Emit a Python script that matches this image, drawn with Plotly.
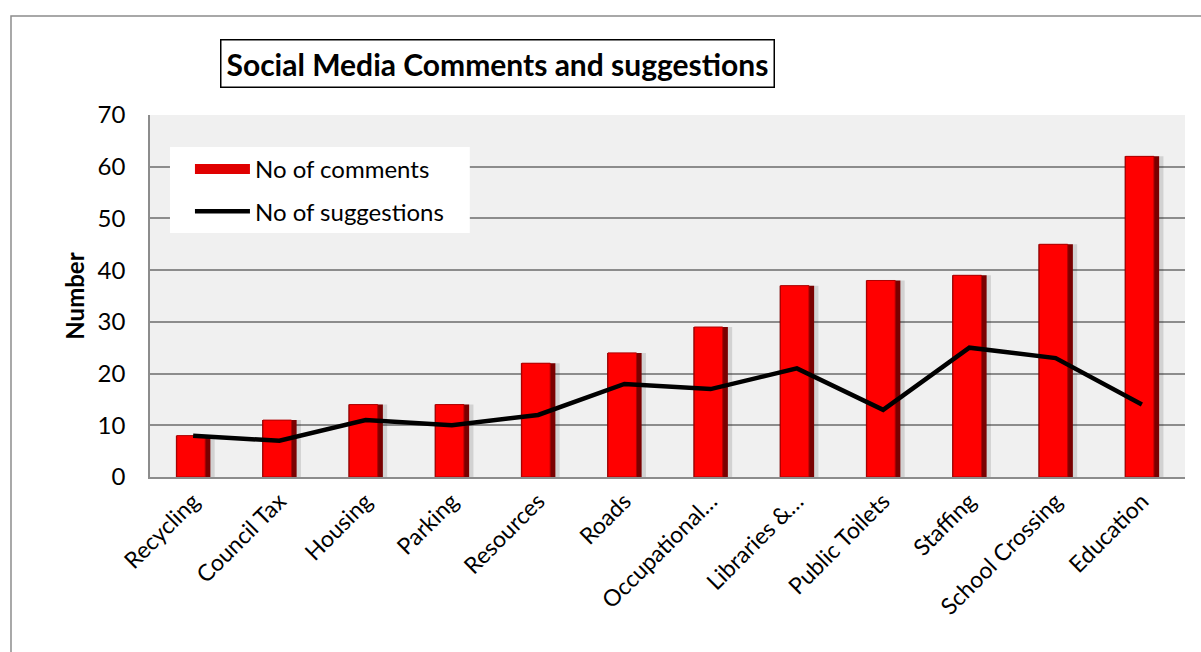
import plotly.graph_objects as go

categories = ["Recycling", "Council Tax", "Housing", "Parking", "Resources", "Roads",
              "Occupational…", "Libraries &…", "Public Toilets", "Staffing",
              "School Crossing", "Education"]
comments = [8, 11, 14, 14, 22, 24, 29, 37, 38, 39, 45, 62]
suggestions = [8, 7, 11, 10, 12, 18, 17, 21, 13, 25, 23, 14]
y_ticks = [0, 10, 20, 30, 40, 50, 60, 70]

FONT = "Lato"

fig = go.Figure()
# shadow
fig.add_trace(go.Bar(x=categories, y=comments, width=0.4, offset=-0.15,
                     marker=dict(color="rgba(0,0,0,0.12)", line=dict(width=0)),
                     showlegend=False, hoverinfo="skip"))
# dark bevel edge
fig.add_trace(go.Bar(x=categories, y=comments, width=0.4, offset=-0.2,
                     marker=dict(color="#7a0000", line=dict(width=0)),
                     showlegend=False, hoverinfo="skip"))
# main bar
fig.add_trace(go.Bar(x=categories, y=comments, width=0.33, offset=-0.19,
                     name="No of comments", showlegend=False,
                     marker=dict(color="#ff0000", line=dict(color="#b00000", width=1))))
# legend swatch for the bars (wide red rectangle like the original)
fig.add_trace(go.Scatter(x=[None], y=[None], mode="lines", name="No of comments",
                         legendgroup="c", line=dict(color="#e00000", width=10)))
fig.add_trace(go.Scatter(x=categories, y=suggestions, mode="lines",
                         name="No of suggestions", legendgroup="s",
                         line=dict(color="black", width=4.5)))

fig.update_layout(
    width=1201, height=652,
    margin=dict(l=150, r=16, t=115, b=175),
    paper_bgcolor="white",
    plot_bgcolor="#f0f0f0",
    barmode="overlay",
    font=dict(family=FONT, size=24, color="black"),
    legend=dict(x=0.0386, y=0.912, xanchor="left", yanchor="top",
                bgcolor="rgba(0,0,0,0)", font=dict(size=24, family=FONT),
                tracegroupgap=8, itemwidth=55),
    xaxis=dict(tickangle=-45, showgrid=False, showline=True, linecolor="#8c8c8c",
               linewidth=1.5, ticks="", tickfont=dict(size=23), range=[-0.5, 11.5]),
    yaxis=dict(range=[0, 70], tickvals=y_ticks, showgrid=True, gridcolor="#8c8c8c",
               gridwidth=1.5, showline=True, linecolor="#8c8c8c", linewidth=1.5,
               ticks="", tickfont=dict(size=24), ticklabelstandoff=18, zeroline=False,
               title=dict(text="<b>Number</b>", font=dict(size=24), standoff=6)),
    shapes=[dict(type="rect", xref="paper", yref="paper",
                 x0=-0.1343, x1=1.2, y0=-1.0, y1=1.2735,
                 line=dict(color="#8c8c8c", width=1.5), fillcolor="rgba(0,0,0,0)",
                 layer="below"),
            dict(type="rect", xref="paper", yref="paper",
                 x0=0.0193, x1=0.309, y0=0.674, y1=0.9116,
                 line=dict(width=0), fillcolor="white", layer="above")],
    annotations=[dict(text="<b>Social Media Comments and suggestions</b>",
                      xref="paper", yref="paper", x=0.336, y=1.1436,
                      xanchor="center", yanchor="middle", showarrow=False,
                      font=dict(size=30, family=FONT),
                      bordercolor="black", borderwidth=1.5, borderpad=5,
                      bgcolor="white")],
)

fig.write_html("out.html")
